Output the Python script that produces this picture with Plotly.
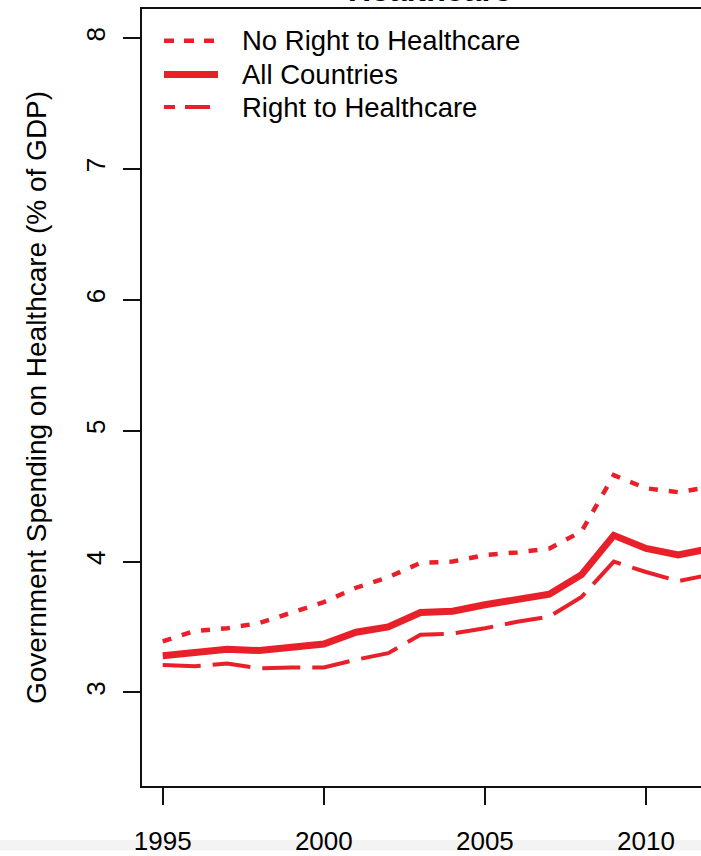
import plotly.graph_objects as go

# ---- data ----
years = list(range(1995, 2013))
no_right = [3.39, 3.47, 3.49, 3.53, 3.61, 3.69, 3.80, 3.88, 3.99, 4.00, 4.05, 4.07, 4.10, 4.23, 4.66, 4.56, 4.53, 4.57]
all_countries = [3.28, 3.30, 3.33, 3.32, 3.35, 3.37, 3.46, 3.50, 3.61, 3.62, 3.67, 3.71, 3.75, 3.90, 4.20, 4.10, 4.05, 4.10]
right = [3.21, 3.20, 3.22, 3.185, 3.19, 3.19, 3.25, 3.30, 3.44, 3.45, 3.49, 3.54, 3.58, 3.73, 4.00, 3.92, 3.85, 3.90]

series_names = ["No Right to Healthcare", "All Countries", "Right to Healthcare"]
x_ticks = [1995, 2000, 2005, 2010]
y_ticks = [3, 4, 5, 6, 7, 8]
title_text = "Healthcare"
y_title = "Government Spending on Healthcare (% of GDP)"

RED = "#E8202A"
FONT = "Liberation Sans, Arial, Helvetica, sans-serif"

styles = [
    dict(width=4.5, dash="9px,11px"),
    dict(width=7, dash="solid"),
    dict(width=4, dash="38px,12px"),
]
legend_dash = ["10px,10px", "solid", "11px,10px,25px,10px"]
series_values = [no_right, all_countries, right]

fig = go.Figure()
for name, vals, st in zip(series_names, series_values, styles):
    fig.add_trace(go.Scatter(
        x=years, y=vals, mode="lines", name=name,
        line=dict(color=RED, width=st["width"], dash=st["dash"]),
        showlegend=False,
    ))

# plot area geometry (pixels)
W, H = 701, 856
L, T, B = 142, 9, 63
plot_w = W - L
plot_h = H - T - B

shapes = []
annotations = []
# manual legend (R style, no box)
leg_rows = [41, 75, 108]
for name, st, dsh, ry in zip(series_names, styles, legend_dash, leg_rows):
    py = (H - B - ry) / plot_h
    shapes.append(dict(type="line", xref="paper", yref="paper",
                       x0=(164 - L) / plot_w, x1=(218 - L) / plot_w, y0=py, y1=py,
                       line=dict(color=RED, width=st["width"], dash=dsh)))
    annotations.append(dict(text=name, xref="paper", yref="paper",
                            x=(240 - L) / plot_w, y=py, xanchor="left", yanchor="middle",
                            showarrow=False, font=dict(family=FONT, size=27.5, color="black")))

# title (cut off at top as in the reference)
annotations.append(dict(text="<b>" + title_text + "</b>", xref="paper", yref="paper",
                        x=(429.5 - L) / plot_w, y=1, xanchor="center", yanchor="bottom",
                        yshift=-1, showarrow=False,
                        font=dict(family=FONT, size=32, color="black")))

# light gray strip at the very bottom of the screenshot
shapes.append(dict(type="rect", xref="paper", yref="paper", layer="below",
                   x0=-L / plot_w - 0.01, x1=1.01,
                   y0=-(B + 2) / plot_h, y1=-(B - 8.5) / plot_h,
                   fillcolor="#F3F3F3", line=dict(width=0)))

fig.update_layout(
    width=W, height=H,
    margin=dict(l=L, r=0, t=T, b=B, pad=0),
    paper_bgcolor="white", plot_bgcolor="white",
    shapes=shapes, annotations=annotations,
    font=dict(family=FONT, color="black"),
)
fig.update_xaxes(
    range=[1994.357, 2011.707], tickvals=x_ticks, ticktext=[str(v) for v in x_ticks],
    showgrid=False, zeroline=False,
    showline=True, linecolor="#111", linewidth=1.6, mirror=True,
    ticks="outside", ticklen=17, tickwidth=1.6, tickcolor="#111",
    ticklabelstandoff=14,
    tickfont=dict(family=FONT, size=26, color="black"),
)
fig.update_yaxes(
    range=[2.285, 8.222], tickvals=y_ticks, ticktext=[str(v) for v in y_ticks],
    showgrid=False, zeroline=False,
    showline=True, linecolor="#111", linewidth=1.6, mirror=False,
    ticks="outside", ticklen=17, tickwidth=1.6, tickcolor="#111",
    tickangle=-90, ticklabelstandoff=8,
    tickfont=dict(family=FONT, size=26, color="black"),
    title=dict(text=y_title, font=dict(family=FONT, size=28, color="black"), standoff=26),
)

fig.write_html(
    "out.html",
    config={"displayModeBar": False},
    post_script="document.body.style.margin='0';document.body.style.overflow='hidden';",
)
